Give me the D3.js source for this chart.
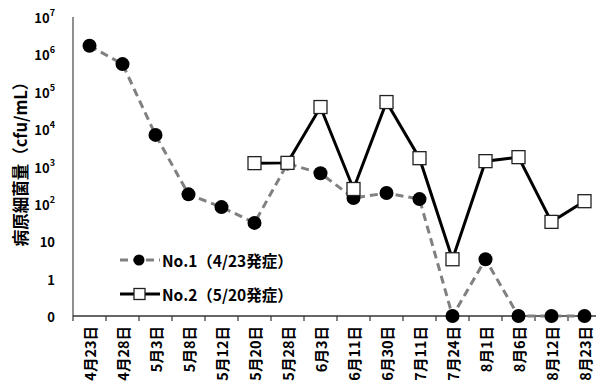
<!DOCTYPE html>
<html><head><meta charset="utf-8">
<script src="https://cdn.jsdelivr.net/npm/d3@7"></script>
<style>
body{margin:0;background:#fff}
svg{display:block}
text{font-family:"Noto Sans CJK JP","Noto Sans",sans-serif;font-weight:bold;fill:#000}
</style>
</head><body><svg id="c" width="596" height="383"></svg>
<script>
const categories = ["4月23日","4月28日","5月3日","5月8日","5月12日","5月20日","5月28日","6月3日","6月11日","6月30日","7月11日","7月24日","8月1日","8月6日","8月12日","8月23日"];
const no1Values = [1.7e6, 5.5e5, 7000, 180, 82, 31, 1200, 660, 143, 195, 134, 0, 3.3, 0, 0, 0];
const no2Values = [null, null, null, null, null, 1230, 1250, 39000, 250, 53000, 1670, 3.3, 1390, 1780, 33, 118];
const yTickValues = [0, 1, 10, 100, 1e3, 1e4, 1e5, 1e6, 1e7];
const yTickBase = ["0","1","10","10","10","10","10","10","10"];
const yTickExp = ["","","","2","3","4","5","6","7"];
const seriesNames = ["No.1（4/23発症）","No.2（5/20発症）"];
const yTitle = "病原細菌量（cfu/mL）";

const svg = d3.select("#c");
const x = d3.scaleBand().domain(categories).range([73, 601]);
const yLin = d3.scaleLinear().domain([-1, 7]).range([316, 17]);
const y = v => yLin(v === 0 ? -1 : Math.log10(v));
const cx = c => x(c) + x.bandwidth() / 2;

// axes
svg.append("line").attr("x1", 73).attr("x2", 73).attr("y1", 17).attr("y2", 316)
  .attr("stroke", "#555").attr("stroke-width", 1.3);
svg.append("line").attr("x1", 73).attr("x2", 596).attr("y1", 316).attr("y2", 316)
  .attr("stroke", "#333").attr("stroke-width", 1.3);
svg.selectAll(".xt").data(categories).join("line")
  .attr("x1", d => x(d)).attr("x2", d => x(d)).attr("y1", 316).attr("y2", 321)
  .attr("stroke", "#333").attr("stroke-width", 1.2);
svg.selectAll(".xl").data(categories).join("text")
  .attr("transform", d => `translate(${cx(d)},326) rotate(-90)`)
  .attr("text-anchor", "end").attr("dominant-baseline", "central")
  .attr("font-size", 14.5).text(d => d);

// y tick labels
const yl = svg.selectAll(".yl").data(yTickValues).join("text")
  .attr("x", 55).attr("y", d => y(d)).attr("dominant-baseline", "central")
  .attr("text-anchor", "end").attr("font-size", 13);
yl.append("tspan").text((d, i) => yTickBase[i]);
yl.append("tspan").attr("dy", -5).attr("font-size", 9).text((d, i) => yTickExp[i]);

// y title
svg.append("text").attr("transform", "translate(20,160) rotate(-90)")
  .attr("text-anchor", "middle").attr("dominant-baseline", "central")
  .attr("font-size", 16.5).text(yTitle);

// series
const d1 = categories.map((c, i) => ({c, v: no1Values[i]}));
const d2 = categories.map((c, i) => ({c, v: no2Values[i]})).filter(d => d.v !== null);
const line = d3.line().x(d => cx(d.c)).y(d => y(d.v));
svg.append("path").datum(d1).attr("d", line).attr("fill", "none")
  .attr("stroke", "#808080").attr("stroke-width", 3).attr("stroke-dasharray", "8,5");
svg.selectAll(".p1").data(d1).join("circle")
  .attr("cx", d => cx(d.c)).attr("cy", d => y(d.v)).attr("r", 7).attr("fill", "#000");
svg.append("path").datum(d2).attr("d", line).attr("fill", "none")
  .attr("stroke", "#000").attr("stroke-width", 3);
svg.selectAll(".p2").data(d2).join("rect")
  .attr("x", d => cx(d.c) - 6.5).attr("y", d => y(d.v) - 6.5).attr("width", 13).attr("height", 13)
  .attr("fill", "#fff").attr("stroke", "#222").attr("stroke-width", 1.3);

// legend
const lg = svg.append("g");
lg.append("line").attr("x1", 120).attr("x2", 160).attr("y1", 260).attr("y2", 260)
  .attr("stroke", "#808080").attr("stroke-width", 3).attr("stroke-dasharray", "8,5");
lg.append("circle").attr("cx", 139).attr("cy", 260).attr("r", 5.5).attr("fill", "#000");
lg.append("text").attr("x", 162).attr("y", 260).attr("dominant-baseline", "central")
  .attr("font-size", 15.5).text(seriesNames[0]);
lg.append("line").attr("x1", 120).attr("x2", 160).attr("y1", 294).attr("y2", 294)
  .attr("stroke", "#000").attr("stroke-width", 3);
lg.append("rect").attr("x", 134).attr("y", 288.5).attr("width", 11).attr("height", 11)
  .attr("fill", "#fff").attr("stroke", "#222").attr("stroke-width", 1.3);
lg.append("text").attr("x", 162).attr("y", 294).attr("dominant-baseline", "central")
  .attr("font-size", 15.5).text(seriesNames[1]);
</script></body></html>
